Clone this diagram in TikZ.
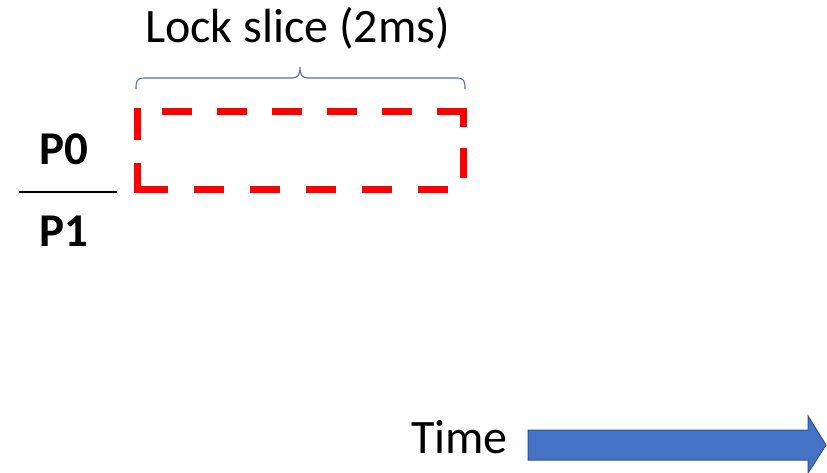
\documentclass[tikz,border=0pt]{standalone}
\usepackage{fontspec}
\setmainfont{Carlito}
\definecolor{boxred}{HTML}{FF0000}
\definecolor{arrowblue}{HTML}{4472C4}
\definecolor{arrowedge}{HTML}{2F528F}
\begin{document}
\begin{tikzpicture}[x=1pt,y=-1pt,
  lbl/.style={font=\fontsize{48}{52}\selectfont, anchor=base, inner sep=0pt},
  blbl/.style={lbl, font=\fontsize{47}{52}\selectfont\bfseries},
  lockside/.style={draw=boxred, line width=7pt},
  bracestyle/.style={draw=arrowblue, line width=1.1pt},
  timearrow/.style={fill=arrowblue, draw=arrowedge, line width=1pt, line join=miter}]
\useasboundingbox (0,0) rectangle (827,473);
% labels
\node[lbl] (lock) at (297.5,43) {Lock slice (2ms)};
\node[blbl] (p0) at (64,165) {P0};
\node[blbl] (p1) at (64,247) {P1};
\node[lbl] (time) at (459.5,453) {Time};
% separator line
\coordinate (sepL) at (19,192);
\coordinate (sepR) at (117,192);
\draw[line width=2pt] (sepL) -- (sepR);
% dashed box, one side at a time
\coordinate (tlo) at (137,112);
\coordinate (tro) at (466.5,112);
\coordinate (rt) at (463,112);
\coordinate (rb) at (463,190);
\coordinate (bro) at (466.5,190);
\coordinate (blo) at (133.5,190);
\coordinate (lb) at (137,193.5);
\coordinate (lt) at (137,108.5);
\draw[lockside, dash pattern=on 30pt off 25pt, dash phase=30pt] (tlo) -- (tro);
\draw[lockside, dash pattern=on 15pt off 21pt on 30pt off 20pt] (rt) -- (rb);
\draw[lockside, dash pattern=on 30pt off 26pt, dash phase=37.5pt] (bro) -- (blo);
\draw[lockside, dash pattern=on 30.5pt off 23pt on 31.5pt off 10pt] (lb) -- (lt);
% brace
\coordinate (braceL) at (136,89);
\coordinate (braceR) at (465,89);
\coordinate (braceTip) at (300,67);
\draw[bracestyle] (braceL) .. controls (136,81) and (137,78) .. (144,78)
  -- (292,78) .. controls (298,78) and (300,75) .. (braceTip)
  .. controls (300,75) and (302,78) .. (308,78)
  -- (457,78) .. controls (464,78) and (465,81) .. (braceR);
% time arrow
\coordinate (a1) at (528,430);
\coordinate (a2) at (808,430);
\coordinate (a3) at (808,416);
\coordinate (a4) at (826,445);
\coordinate (a5) at (808,473);
\coordinate (a6) at (808,460);
\coordinate (a7) at (528,460);
\draw[timearrow] (a1) -- (a2) -- (a3) -- (a4) -- (a5) -- (a6) -- (a7) -- cycle;
\end{tikzpicture}
\end{document}
